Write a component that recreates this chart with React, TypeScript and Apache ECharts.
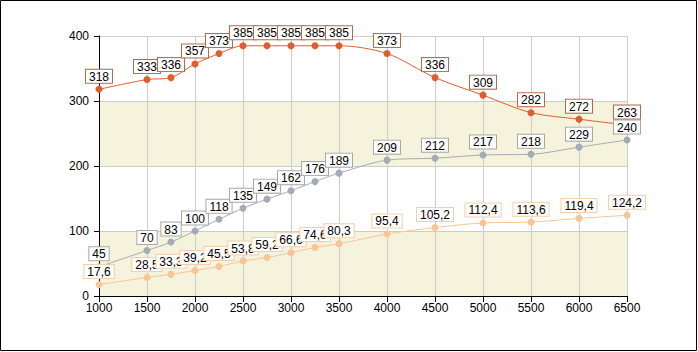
import React, { useEffect, useRef } from "react";
import * as echarts from "echarts";

const xValues = [1000, 1500, 1750, 2000, 2250, 2500, 2750, 3000, 3250, 3500, 4000, 4500, 5000, 5500, 6000, 6500];
const seriesTop = [318, 333, 336, 357, 373, 385, 385, 385, 385, 385, 373, 336, 309, 282, 272, 263];
const seriesMid = [45, 70, 83, 100, 118, 135, 149, 162, 176, 189, 209, 212, 217, 218, 229, 240];
const seriesLow = [17.6, 28.5, 33.3, 39.2, 45.5, 53.8, 59.2, 66.6, 74.6, 80.3, 95.4, 105.2, 112.4, 113.6, 119.4, 124.2];

const FONT = "Liberation Sans, Arial, sans-serif";

function makeSeries(name: string, values: number[], color: string, border: string) {
  return {
    name,
    type: "line",
    smooth: 0.3,
    symbol: "circle",
    symbolSize: 7,
    data: values.map((v, i) => [xValues[i], v]),
    lineStyle: { color, width: 1 },
    itemStyle: { color },
    label: {
      show: true,
      position: "top",
      distance: 3,
      color: "#000",
      fontFamily: FONT,
      fontSize: 12,
      backgroundColor: "#fff",
      borderColor: border,
      borderWidth: 1,
      padding: [1, 3, 0, 3],
      formatter: (p: any) => String(p.value[1]).replace(".", ","),
    },
  };
}

export default function App() {
  const ref = useRef<HTMLDivElement>(null);
  useEffect(() => {
    document.body.style.margin = "0";
    const chart = echarts.init(ref.current!, null, { renderer: "svg" });
    chart.setOption({
      animation: false,
      backgroundColor: "#fff",
      grid: { left: 99, right: 71, top: 36, bottom: 56 },
      graphic: [
        {
          type: "rect",
          shape: { x: 0.5, y: 0.5, width: 696, height: 350 },
          style: { fill: "none", stroke: "#000", lineWidth: 1 },
          silent: true,
        },
      ],
      xAxis: {
        type: "value",
        min: 1000,
        max: 6500,
        interval: 500,
        axisLine: { show: true, lineStyle: { color: "#000" } },
        axisTick: { show: true, length: 6, lineStyle: { color: "#000" } },
        axisLabel: {
          color: "#000",
          fontFamily: FONT,
          fontSize: 12,
          margin: 6,
          formatter: (v: number) => String(v),
        },
        splitLine: { show: true, lineStyle: { color: "#cccccc" } },
      },
      yAxis: {
        type: "value",
        min: 0,
        max: 400,
        interval: 100,
        axisLine: { show: true, lineStyle: { color: "#000" } },
        axisTick: { show: true, length: 5, lineStyle: { color: "#000" } },
        axisLabel: { color: "#000", fontFamily: FONT, fontSize: 12, margin: 10 },
        splitLine: { show: true, lineStyle: { color: "#cccccc" } },
        splitArea: { show: true, areaStyle: { color: ["#F5F3DC", "#ffffff"] } },
      },
      series: [
        makeSeries("low", seriesLow, "#F9C496", "#F2CFA8"),
        makeSeries("mid", seriesMid, "#A3ACB5", "#A8A8A8"),
        makeSeries("top", seriesTop, "#E25D2E", "#B8694A"),
      ],
    });
    return () => chart.dispose();
  }, []);
  return <div ref={ref} style={{ width: 698, height: 352 }} />;
}
